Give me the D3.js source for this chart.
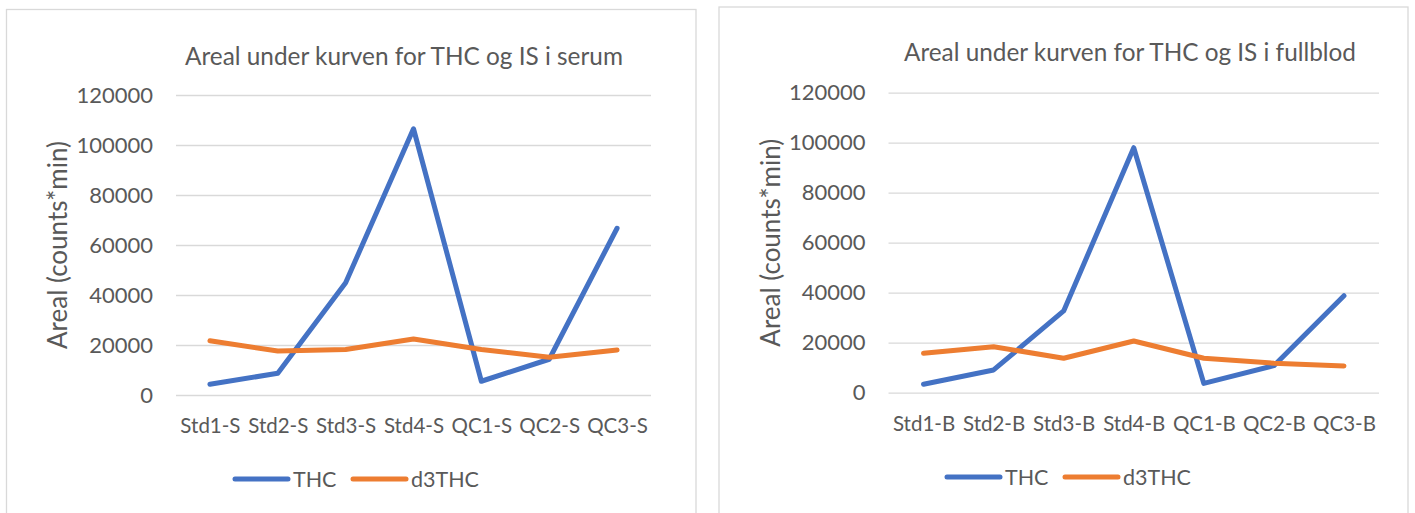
<!DOCTYPE html>
<html>
<head>
<meta charset="utf-8">
<script src="https://cdn.jsdelivr.net/npm/d3@7"></script>
<style>
  html, body { margin: 0; padding: 0; background: #ffffff; }
  svg { display: block; }
  text { font-family: Lato, "Open Sans", sans-serif; fill: #595959; }
</style>
</head>
<body>
<svg id="chart" width="1415" height="513"></svg>
<script>
// Area under the curve, serum samples
const categoriesSerum = ["Std1-S", "Std2-S", "Std3-S", "Std4-S", "QC1-S", "QC2-S", "QC3-S"];
const thcSerum   = [4300, 8700, 44900, 106500, 5500, 14300, 66700];
const d3thcSerum = [21700, 17600, 18200, 22400, 18200, 15100, 18000];

// Area under the curve, whole blood samples
const categoriesBlood = ["Std1-B", "Std2-B", "Std3-B", "Std4-B", "QC1-B", "QC2-B", "QC3-B"];
const thcBlood   = [3400, 9100, 32700, 98000, 3700, 10800, 38800];
const d3thcBlood = [15800, 18400, 13800, 20700, 13800, 11800, 10700];

const yTicks = [0, 20000, 40000, 60000, 80000, 100000, 120000];
const seriesNames = ["THC", "d3THC"];
const seriesColors = ["#4472C4", "#ED7D31"];
const yLabel = "Areal (counts*min)";

const svg = d3.select("#chart");

function drawPanel(cfg) {
  const g = svg.append("g");

  // panel frame
  g.append("rect")
    .attr("x", cfg.frame[0]).attr("y", cfg.frame[1])
    .attr("width", cfg.frame[2]).attr("height", cfg.frame[3])
    .attr("fill", "#ffffff").attr("stroke", "#d9d9d9").attr("stroke-width", 1.3);

  const x = d3.scalePoint().domain(cfg.categories).range([cfg.left, cfg.right]).padding(0.5);
  const y = d3.scaleLinear().domain([0, 120000]).range([cfg.bottom, cfg.top]);
  const w = cfg.right - cfg.left;

  // horizontal gridlines with value labels
  const yAxis = g.append("g")
    .attr("transform", `translate(${cfg.left},0)`)
    .call(d3.axisLeft(y).tickValues(yTicks).tickSize(-w).tickPadding(23).tickFormat(d3.format("d")));
  yAxis.select(".domain").remove();
  yAxis.selectAll(".tick line").attr("stroke", "#d9d9d9").attr("stroke-width", 1.3);
  yAxis.selectAll(".tick text")
    .style("font-family", "Lato, sans-serif").style("font-size", "22px").attr("fill", "#595959");

  // category labels
  const xAxis = g.append("g")
    .attr("transform", `translate(0,${cfg.bottom})`)
    .call(d3.axisBottom(x).tickSize(0).tickPadding(cfg.xPad));
  xAxis.select(".domain").remove();
  xAxis.selectAll(".tick text")
    .style("font-family", "Lato, sans-serif").style("font-size", "20.5px").attr("fill", "#595959");

  // series lines
  const line = d3.line()
    .x((d, i) => x(cfg.categories[i]))
    .y(d => y(d));
  [cfg.thc, cfg.d3thc].forEach((vals, k) => {
    g.append("path")
      .datum(vals)
      .attr("d", line)
      .attr("fill", "none")
      .attr("stroke", seriesColors[k])
      .attr("stroke-width", 5)
      .attr("stroke-linejoin", "round")
      .attr("stroke-linecap", "round");
  });

  // chart title, sized to its span
  const title = g.append("text")
    .attr("x", cfg.titleX).attr("y", cfg.titleY)
    .style("font-size", "24px")
    .text(cfg.title);
  const tw = title.node().getComputedTextLength();
  title.style("font-size", (24 * cfg.titleW / tw).toFixed(2) + "px");

  // y axis title
  g.append("text")
    .attr("transform", `translate(${cfg.yTitleX},${(cfg.top + cfg.bottom) / 2}) rotate(-90)`)
    .attr("text-anchor", "middle")
    .style("font-size", "26px")
    .text(yLabel);

  // legend
  const lg = g.append("g").attr("transform", `translate(${cfg.legendX},${cfg.legendY})`);
  const legendSteps = [0, 118];
  seriesNames.forEach((name, k) => {
    const item = lg.append("g").attr("transform", `translate(${legendSteps[k]},0)`);
    item.append("line")
      .attr("x1", 0).attr("x2", 53).attr("y1", 0).attr("y2", 0)
      .attr("stroke", seriesColors[k]).attr("stroke-width", 5).attr("stroke-linecap", "round");
    item.append("text")
      .attr("x", 58).attr("y", 8)
      .style("font-size", "21.5px")
      .text(name);
  });
}

drawPanel({
  frame: [6.5, 9.5, 689.5, 520],
  categories: categoriesSerum, thc: thcSerum, d3thc: d3thcSerum,
  left: 176, right: 651, top: 95, bottom: 395, xPad: 23,
  title: "Areal under kurven for THC og IS i serum", titleX: 185, titleY: 65, titleW: 438,
  yTitleX: 67,
  legendX: 235, legendY: 479
});

drawPanel({
  frame: [719, 7, 689, 520],
  categories: categoriesBlood, thc: thcBlood, d3thc: d3thcBlood,
  left: 888.5, right: 1379, top: 92.7, bottom: 392.7, xPad: 24,
  title: "Areal under kurven for THC og IS i fullblod", titleX: 904, titleY: 61, titleW: 452,
  yTitleX: 780,
  legendX: 947, legendY: 477
});
</script>
</body>
</html>
